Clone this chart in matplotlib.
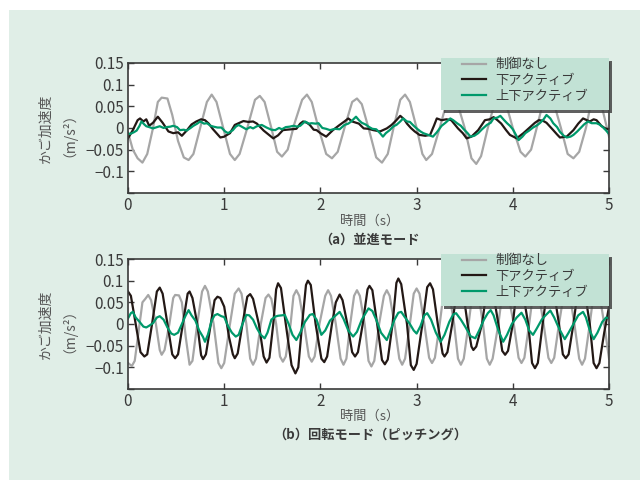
import matplotlib
matplotlib.use("Agg")
import matplotlib.pyplot as plt
from matplotlib.patches import Rectangle

plt.rcParams['font.family'] = ['Noto Sans CJK JP', 'DejaVu Sans']

# -----------------------------
# Data
# -----------------------------
series_names = ["制御なし", "下アクティブ", "上下アクティブ"]
series_colors = ["#a6a6a6", "#231815", "#00996b"]

# (a) translation mode
t_gray_a = [0.00, 0.05, 0.10, 0.15, 0.20, 0.26, 0.31, 0.35, 0.41, 0.46, 0.52, 0.58, 0.63, 0.68, 0.75,
            0.82, 0.87, 0.92, 0.99, 1.06, 1.11, 1.16, 1.24, 1.32, 1.37, 1.42, 1.49, 1.55, 1.60, 1.66,
            1.73, 1.81, 1.86, 1.91, 1.98, 2.06, 2.12, 2.18, 2.25, 2.33, 2.38, 2.43, 2.50, 2.58, 2.64,
            2.70, 2.76, 2.83, 2.88, 2.93, 3.00, 3.06, 3.10, 3.16, 3.24, 3.32, 3.37, 3.42, 3.50, 3.57,
            3.62, 3.67, 3.74, 3.82, 3.87, 3.93, 4.00, 4.08, 4.13, 4.19, 4.26, 4.32, 4.37, 4.43, 4.50,
            4.57, 4.63, 4.69, 4.76, 4.82, 4.87, 4.93, 5.00]
v_gray_a = [-0.010, -0.050, -0.070, -0.080, -0.060, 0.000, 0.060, 0.070, 0.068, 0.030, -0.030, -0.068,
            -0.074, -0.060, 0.000, 0.060, 0.077, 0.060, 0.000, -0.060, -0.074, -0.060, 0.000, 0.065,
            0.074, 0.060, 0.000, -0.055, -0.066, -0.050, 0.010, 0.065, 0.077, 0.060, 0.000, -0.060,
            -0.070, -0.055, 0.000, 0.060, 0.068, 0.055, 0.000, -0.068, -0.080, -0.060, 0.000, 0.065,
            0.077, 0.060, 0.000, -0.060, -0.074, -0.060, 0.000, 0.065, 0.075, 0.060, 0.000, -0.070,
            -0.083, -0.065, 0.000, 0.065, 0.075, 0.055, 0.000, -0.055, -0.066, -0.050, 0.010, 0.065,
            0.075, 0.055, 0.000, -0.060, -0.070, -0.055, 0.000, 0.065, 0.075, 0.045, -0.020]

t_black_a = [0.00, 0.05, 0.10, 0.125, 0.16, 0.19, 0.22, 0.26, 0.31, 0.36, 0.42, 0.47, 0.52, 0.56, 0.61,
             0.66, 0.71, 0.76, 0.80, 0.84, 0.88, 0.92, 0.96, 1.00, 1.06, 1.11, 1.15, 1.20, 1.25, 1.30,
             1.34, 1.41, 1.46, 1.51, 1.56, 1.61, 1.65, 1.70, 1.75, 1.79, 1.82, 1.86, 1.89, 1.93, 1.96,
             2.00, 2.06, 2.13, 2.20, 2.25, 2.29, 2.33, 2.40, 2.45, 2.50, 2.55, 2.62, 2.69, 2.74, 2.79,
             2.83, 2.87, 2.90, 2.94, 2.98, 3.03, 3.09, 3.14, 3.18, 3.21, 3.26, 3.31, 3.36, 3.43, 3.48,
             3.52, 3.57, 3.64, 3.68, 3.71, 3.76, 3.80, 3.84, 3.88, 3.93, 3.97, 4.04, 4.11, 4.18, 4.23,
             4.27, 4.31, 4.35, 4.42, 4.46, 4.49, 4.56, 4.63, 4.68, 4.73, 4.77, 4.80, 4.84, 4.87, 4.92,
             4.96, 5.00]
v_black_a = [-0.024, -0.005, 0.018, 0.022, 0.015, 0.020, 0.005, 0.012, 0.026, 0.012, -0.008, -0.012,
             -0.010, -0.018, -0.006, 0.008, 0.015, 0.020, 0.018, 0.010, -0.002, -0.012, -0.022, -0.020,
             -0.012, 0.007, 0.011, 0.016, 0.014, 0.015, 0.010, -0.006, -0.015, -0.024, -0.017, -0.005,
             -0.004, -0.003, -0.002, 0.010, 0.015, 0.012, 0.007, -0.004, -0.005, -0.012, -0.020, -0.005,
             0.007, 0.015, 0.022, 0.015, 0.010, -0.001, -0.002, -0.005, -0.008, -0.001, 0.007, 0.018,
             0.028, 0.020, 0.010, 0.000, -0.008, -0.016, -0.018, -0.016, 0.005, 0.022, 0.018, 0.020,
             0.018, -0.001, -0.012, -0.024, -0.020, -0.005, 0.008, 0.018, 0.020, 0.025, 0.018, 0.010,
             -0.005, -0.016, -0.024, -0.012, 0.002, 0.012, 0.018, 0.017, 0.012, -0.005, -0.015, -0.022,
             -0.020, -0.005, 0.010, 0.022, 0.018, 0.015, 0.020, 0.018, 0.005, -0.001, -0.003]

t_green_a = [0.00, 0.02, 0.06, 0.09, 0.12, 0.14, 0.17, 0.19, 0.22, 0.26, 0.30, 0.33, 0.37, 0.40, 0.44,
             0.47, 0.51, 0.54, 0.58, 0.61, 0.65, 0.68, 0.72, 0.75, 0.79, 0.82, 0.86, 0.89, 0.93, 0.97,
             1.01, 1.04, 1.09, 1.12, 1.15, 1.19, 1.23, 1.27, 1.30, 1.34, 1.39, 1.44, 1.49, 1.53, 1.57,
             1.60, 1.64, 1.68, 1.72, 1.76, 1.79, 1.84, 1.88, 1.91, 1.95, 1.98, 2.02, 2.06, 2.10, 2.15,
             2.20, 2.25, 2.29, 2.32, 2.37, 2.40, 2.43, 2.47, 2.50, 2.54, 2.58, 2.62, 2.65, 2.68, 2.72,
             2.76, 2.79, 2.83, 2.86, 2.90, 2.93, 2.97, 3.00, 3.04, 3.07, 3.12, 3.17, 3.21, 3.26, 3.30,
             3.35, 3.38, 3.42, 3.46, 3.49, 3.53, 3.56, 3.60, 3.64, 3.68, 3.73, 3.77, 3.80, 3.84, 3.87,
             3.91, 3.94, 3.97, 4.00, 4.03, 4.06, 4.10, 4.13, 4.17, 4.21, 4.25, 4.28, 4.32, 4.35, 4.39,
             4.42, 4.46, 4.49, 4.53, 4.56, 4.60, 4.63, 4.67, 4.71, 4.74, 4.78, 4.82, 4.87, 4.90, 4.94,
             4.97, 5.00]
v_green_a = [-0.012, -0.014, -0.010, -0.006, 0.005, 0.015, 0.008, 0.004, 0.002, -0.001, 0.002, 0.004,
             0.000, 0.002, 0.003, 0.005, 0.002, -0.005, -0.004, -0.006, 0.000, 0.005, 0.010, 0.015,
             0.010, 0.011, 0.005, 0.003, 0.001, 0.001, -0.008, -0.012, -0.005, 0.003, 0.007, 0.002,
             -0.003, 0.002, -0.001, 0.004, 0.007, 0.001, -0.004, -0.005, 0.000, -0.003, 0.002, 0.003,
             0.005, 0.003, 0.005, 0.015, 0.010, 0.011, 0.010, 0.011, 0.000, -0.002, -0.005, -0.002,
             -0.003, 0.007, 0.010, 0.015, 0.026, 0.018, 0.012, 0.008, 0.003, -0.002, -0.003, -0.012,
             -0.020, -0.012, -0.005, 0.004, 0.007, 0.015, 0.022, 0.015, 0.014, 0.005, -0.001, -0.008,
             -0.012, -0.016, -0.020, -0.010, 0.005, 0.012, 0.022, 0.018, 0.011, 0.005, -0.003, -0.012,
             -0.020, -0.018, -0.012, -0.003, 0.007, 0.012, 0.022, 0.024, 0.028, 0.018, 0.011, 0.005,
             -0.003, -0.015, -0.028, -0.020, -0.012, -0.006, 0.001, 0.006, 0.011, 0.020, 0.030, 0.022,
             0.011, 0.002, -0.009, -0.018, -0.022, -0.020, -0.016, -0.008, 0.001, 0.008, 0.015, 0.011,
             0.011, 0.008, 0.001, -0.006, -0.014]

# (b) rotation (pitching) mode
t_gray_b = [0.00, 0.04, 0.07, 0.12, 0.15, 0.18, 0.21, 0.24, 0.29, 0.33, 0.35, 0.38, 0.43, 0.47, 0.49,
            0.53, 0.56, 0.60, 0.64, 0.67, 0.72, 0.77, 0.80, 0.83, 0.89, 0.94, 0.97, 1.00, 1.06, 1.11,
            1.15, 1.18, 1.23, 1.27, 1.30, 1.33, 1.38, 1.43, 1.46, 1.49, 1.54, 1.58, 1.61, 1.64, 1.69,
            1.72, 1.75, 1.78, 1.83, 1.88, 1.91, 1.94, 1.99, 2.05, 2.08, 2.11, 2.16, 2.21, 2.24, 2.27,
            2.31, 2.35, 2.38, 2.41, 2.46, 2.50, 2.53, 2.56, 2.61, 2.66, 2.69, 2.72, 2.77, 2.82, 2.85,
            2.88, 2.93, 2.97, 3.00, 3.03, 3.08, 3.13, 3.16, 3.19, 3.24, 3.28, 3.31, 3.34, 3.39, 3.43,
            3.46, 3.49, 3.54, 3.58, 3.61, 3.64, 3.69, 3.73, 3.76, 3.79, 3.85, 3.89, 3.92, 3.95, 4.01,
            4.06, 4.09, 4.12, 4.17, 4.21, 4.24, 4.27, 4.32, 4.37, 4.40, 4.43, 4.48, 4.53, 4.56, 4.59,
            4.64, 4.69, 4.72, 4.75, 4.80, 4.84, 4.87, 4.90, 4.95, 5.00]
v_gray_b = [-0.090, -0.097, -0.085, 0.000, 0.050, 0.058, 0.067, 0.055, 0.000, -0.060, -0.071, -0.060,
            0.000, 0.060, 0.067, 0.066, 0.050, -0.030, -0.094, -0.085, 0.000, 0.075, 0.088, 0.075,
            0.000, -0.090, -0.102, -0.090, 0.000, 0.070, 0.082, 0.070, 0.000, -0.080, -0.094, -0.080,
            0.000, 0.060, 0.068, 0.058, 0.000, -0.075, -0.087, -0.075, 0.000, 0.065, 0.078, 0.065,
            0.000, -0.075, -0.087, -0.075, 0.000, 0.065, 0.078, 0.065, 0.000, -0.080, -0.094, -0.080,
            0.000, 0.065, 0.078, 0.065, 0.000, -0.085, -0.098, -0.085, 0.000, 0.065, 0.078, 0.065,
            0.000, -0.080, -0.094, -0.080, 0.000, 0.070, 0.082, 0.070, 0.000, -0.078, -0.090, -0.078,
            0.000, 0.070, 0.080, 0.070, 0.000, -0.080, -0.094, -0.080, 0.000, 0.070, 0.080, 0.070,
            0.000, -0.080, -0.094, -0.080, 0.000, 0.070, 0.080, 0.070, 0.000, -0.078, -0.090, -0.078,
            0.000, 0.070, 0.080, 0.070, 0.000, -0.078, -0.090, -0.078, 0.000, 0.070, 0.080, 0.070,
            0.000, -0.080, -0.094, -0.080, 0.000, 0.070, 0.080, 0.070, 0.000, -0.080]

t_black_b = [0.00, 0.03, 0.08, 0.13, 0.17, 0.20, 0.25, 0.30, 0.33, 0.36, 0.41, 0.46, 0.49, 0.52, 0.57,
             0.62, 0.64, 0.67, 0.72, 0.76, 0.78, 0.81, 0.86, 0.90, 0.93, 0.96, 1.00, 1.05, 1.09, 1.11,
             1.14, 1.19, 1.24, 1.27, 1.30, 1.36, 1.41, 1.44, 1.47, 1.51, 1.54, 1.56, 1.59, 1.64, 1.70,
             1.74, 1.77, 1.81, 1.85, 1.87, 1.90, 1.95, 2.01, 2.04, 2.07, 2.12, 2.16, 2.20, 2.23, 2.28,
             2.33, 2.36, 2.39, 2.44, 2.49, 2.51, 2.54, 2.59, 2.64, 2.67, 2.70, 2.75, 2.79, 2.81, 2.84,
             2.90, 2.94, 2.97, 3.00, 3.06, 3.11, 3.14, 3.17, 3.22, 3.27, 3.29, 3.32, 3.37, 3.42, 3.45,
             3.48, 3.53, 3.57, 3.59, 3.62, 3.68, 3.73, 3.76, 3.79, 3.85, 3.89, 3.92, 3.95, 4.00, 4.04,
             4.07, 4.10, 4.16, 4.20, 4.23, 4.26, 4.31, 4.36, 4.39, 4.42, 4.48, 4.52, 4.55, 4.58, 4.63,
             4.68, 4.71, 4.74, 4.80, 4.84, 4.87, 4.90, 4.95, 5.00]
v_black_b = [0.075, 0.065, 0.000, -0.065, -0.075, -0.070, 0.000, 0.075, 0.084, 0.070, 0.000, -0.070,
             -0.079, -0.070, 0.000, 0.070, 0.075, 0.060, 0.000, -0.072, -0.081, -0.070, 0.000, 0.055,
             0.063, 0.060, 0.040, -0.030, -0.070, -0.079, -0.068, 0.000, 0.063, 0.069, 0.058, 0.000,
             -0.075, -0.089, -0.078, 0.000, 0.080, 0.094, 0.083, 0.000, -0.095, -0.114, -0.100, 0.000,
             0.090, 0.100, 0.090, 0.000, -0.080, -0.088, -0.075, 0.000, 0.050, 0.068, 0.055, 0.000,
             -0.065, -0.075, -0.065, 0.000, 0.080, 0.088, 0.078, 0.000, -0.083, -0.093, -0.082, 0.000,
             0.095, 0.105, 0.092, 0.000, -0.095, -0.106, -0.092, 0.000, 0.085, 0.094, 0.080, 0.000,
             -0.068, -0.075, -0.065, 0.000, 0.080, 0.090, 0.080, 0.000, -0.052, -0.060, -0.052, 0.000,
             0.080, 0.090, 0.080, 0.000, -0.062, -0.071, -0.062, 0.000, 0.080, 0.090, 0.080, 0.000,
             -0.090, -0.102, -0.090, 0.000, 0.085, 0.095, 0.085, 0.000, -0.070, -0.079, -0.070, 0.000,
             0.085, 0.095, 0.085, 0.000, -0.090, -0.102, -0.090, -0.020, 0.040]

t_green_b = [0.00, 0.03, 0.05, 0.08, 0.12, 0.16, 0.19, 0.22, 0.26, 0.30, 0.33, 0.37, 0.41, 0.45, 0.48,
             0.52, 0.56, 0.60, 0.63, 0.66, 0.70, 0.74, 0.78, 0.80, 0.83, 0.87, 0.90, 0.93, 0.97, 1.00,
             1.04, 1.08, 1.12, 1.15, 1.19, 1.23, 1.26, 1.30, 1.34, 1.38, 1.42, 1.45, 1.49, 1.53, 1.56,
             1.60, 1.63, 1.67, 1.71, 1.75, 1.79, 1.84, 1.89, 1.92, 1.96, 2.01, 2.05, 2.10, 2.15, 2.20,
             2.24, 2.29, 2.34, 2.38, 2.43, 2.47, 2.50, 2.54, 2.58, 2.63, 2.69, 2.72, 2.77, 2.81, 2.84,
             2.88, 2.93, 2.97, 3.00, 3.04, 3.08, 3.11, 3.15, 3.20, 3.25, 3.29, 3.34, 3.38, 3.41, 3.46,
             3.51, 3.56, 3.61, 3.65, 3.70, 3.74, 3.77, 3.80, 3.85, 3.90, 3.94, 3.99, 4.04, 4.09, 4.13,
             4.17, 4.21, 4.25, 4.30, 4.34, 4.39, 4.43, 4.48, 4.54, 4.58, 4.63, 4.68, 4.73, 4.76, 4.80,
             4.84, 4.88, 4.93, 4.97, 5.00]
v_green_b = [0.013, 0.025, 0.028, 0.015, 0.005, -0.006, -0.008, -0.004, 0.002, 0.015, 0.018, 0.010,
             -0.008, -0.022, -0.025, -0.020, 0.000, 0.020, 0.032, 0.020, 0.008, -0.015, -0.030, -0.041,
             -0.025, 0.008, 0.020, 0.023, 0.018, 0.016, -0.005, -0.020, -0.029, -0.025, 0.000, 0.021,
             0.020, 0.010, -0.010, -0.025, -0.033, -0.020, 0.010, 0.017, 0.019, 0.020, 0.021, 0.000,
             -0.025, -0.037, -0.020, 0.005, 0.021, 0.023, 0.010, -0.025, -0.015, 0.008, 0.018, 0.028,
             0.012, -0.015, -0.029, -0.018, 0.010, 0.025, 0.036, 0.030, 0.010, -0.020, -0.037, -0.020,
             0.010, 0.026, 0.028, 0.015, 0.000, -0.015, -0.022, -0.005, 0.020, 0.025, 0.010, -0.020,
             -0.041, -0.025, 0.005, 0.022, 0.025, 0.010, -0.008, -0.028, -0.033, -0.015, 0.010, 0.025,
             0.032, 0.020, -0.015, -0.041, -0.025, 0.000, 0.015, 0.026, 0.010, -0.015, -0.025, -0.010,
             0.010, 0.020, 0.031, 0.015, -0.010, -0.035, -0.020, 0.000, 0.020, 0.028, 0.015, -0.015,
             -0.035, -0.020, 0.005, 0.015, 0.013]

y_ticks = [-0.15, -0.1, -0.05, 0, 0.05, 0.1, 0.15]
y_tick_labels = ["", "\u22120.1", "\u22120.05", "0", "0.05", "0.1", "0.15"]
x_ticks = [0, 1, 2, 3, 4, 5]

panels = [
    ((t_gray_a, v_gray_a), (t_black_a, v_black_a), (t_green_a, v_green_a), "（a）並進モード"),
    ((t_gray_b, v_gray_b), (t_black_b, v_black_b), (t_green_b, v_green_b), "（b）回転モード（ピッチング）"),
]

# -----------------------------
# Figure
# -----------------------------
fig = plt.figure(figsize=(6.4, 4.8), dpi=100)
fig.patch.set_facecolor("white")
fig.patches.append(Rectangle((9 / 640, 0), 1, 1 - 10 / 480, transform=fig.transFigure,
                             facecolor="#e0eee7", edgecolor="none", zorder=-10))

axes_boxes = [[0.2, 0.598, 0.7516, 0.2708], [0.2, 0.1896, 0.7516, 0.2708]]
xlabel_y = [0.540, 0.133]
caption_y = [0.500, 0.094]
ink = "#3a3a3a"

for (gray, black, green, caption), box, xl_y, cap_y in zip(panels, axes_boxes, xlabel_y, caption_y):
    ax = fig.add_axes(box)
    ax.set_facecolor("white")
    for (t, v), name, col in zip([gray, black, green], series_names, series_colors):
        ax.plot(t, v, color=col, lw=1.6, label=name, solid_joinstyle="round")

    ax.set_xlim(0, 5)
    ax.set_ylim(-0.15, 0.15)
    ax.set_xticks(x_ticks)
    ax.set_yticks(y_ticks)
    ax.set_yticklabels(y_tick_labels)
    ax.tick_params(direction="in", top=True, right=True, length=4, width=1,
                   colors=ink, labelsize=11, pad=3)
    for s in ax.spines.values():
        s.set_color(ink)
        s.set_linewidth(1.2)

    # two-column rotated y label
    ax.text(-0.172, 0.5, "かご加速度", transform=ax.transAxes, rotation=90,
            ha="center", va="center", fontsize=10, color="#555555")
    ax.text(-0.137, 0.5, "（m/s²）", transform=ax.transAxes, rotation=90,
            ha="center", va="center", fontsize=10, color="#555555")

    # legend box with drop shadow
    ax.add_patch(Rectangle((0.657, 0.615), 0.349, 0.4, transform=ax.transAxes,
                           facecolor="#444444", edgecolor="none", alpha=0.85,
                           clip_on=False, zorder=5))
    ax.add_patch(Rectangle((0.651, 0.638), 0.349, 0.4, transform=ax.transAxes,
                           facecolor="#c2e2d5", edgecolor="none",
                           clip_on=False, zorder=6))
    leg = ax.legend(loc="upper left", bbox_to_anchor=(0.695, 1.035), frameon=False,
                    fontsize=9.5, handlelength=1.8, handletextpad=0.7,
                    labelspacing=0.2, borderpad=0, borderaxespad=0)
    leg.set_zorder(7)
    for txt in leg.get_texts():
        txt.set_color(ink)

    fig.text(0.578, xl_y, "時間（s）", ha="center", va="center", fontsize=9.5, color="#555555")
    fig.text(0.578, cap_y, caption, ha="center", va="center", fontsize=9.5,
             fontweight="bold", color=ink)

fig.savefig("out.png", dpi=100, facecolor=fig.get_facecolor())
